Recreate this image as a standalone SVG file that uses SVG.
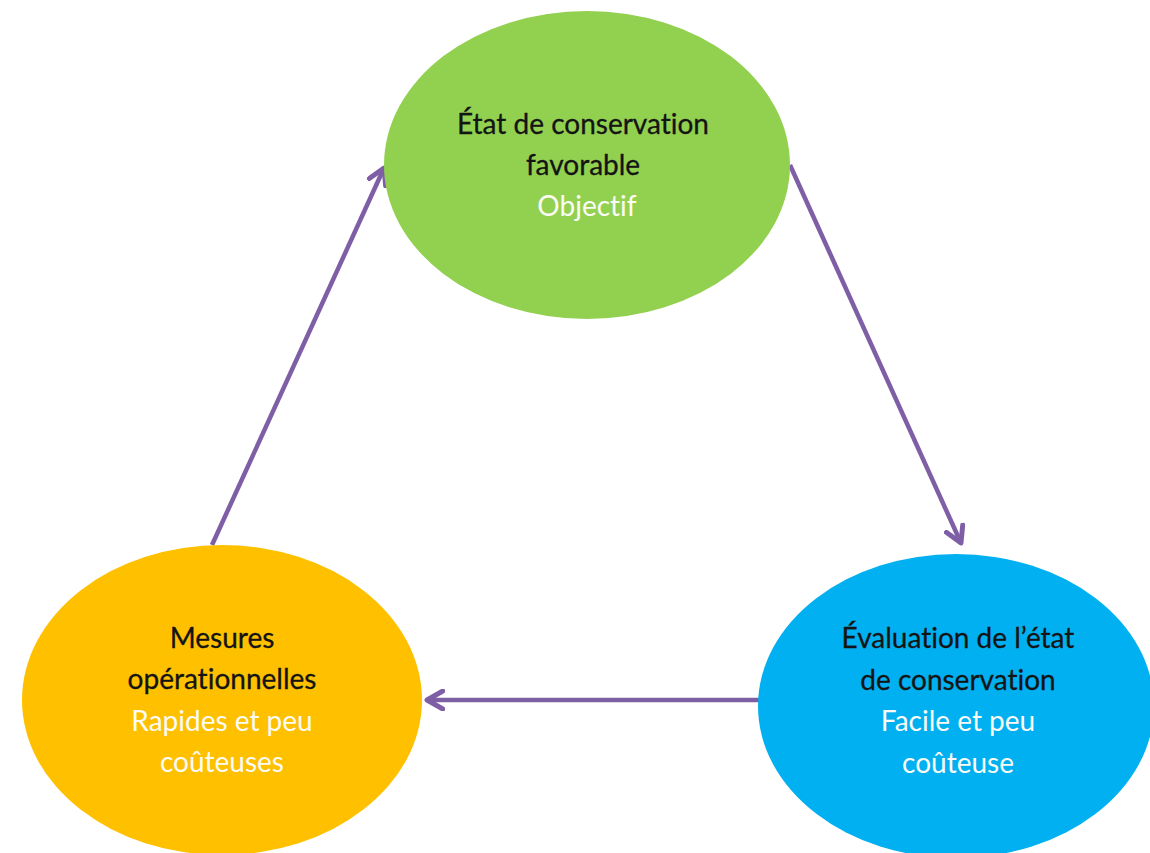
<svg xmlns="http://www.w3.org/2000/svg" width="1150" height="853" viewBox="0 0 1150 853">
<defs>
<style>
.t{font-family:Lato,"Open Sans","Liberation Sans",sans-serif;font-size:28px;text-anchor:middle;font-variant-ligatures:none;font-feature-settings:"liga" 0,"clig" 0}
.d{fill:#141414;stroke:#141414;stroke-width:0.3}
.w{fill:#fbfbf5}
.c{stroke:#7e5fa6;stroke-width:4.5;fill:none}
</style>
<marker id="ah" viewBox="0 0 10 10" refX="8" refY="5" markerWidth="5" markerHeight="5" orient="auto" markerUnits="strokeWidth">
<path d="M1,1 L8,5 L1,9" fill="none" stroke="#7e5fa6" stroke-width="2.2" stroke-linecap="round" stroke-linejoin="round"/>
</marker>
</defs>
<rect width="1150" height="853" fill="#ffffff"/>
<g id="connectors">
<line class="c" x1="212" y1="545" x2="384" y2="168" marker-end="url(#ah)"/>
<line class="c" x1="790" y1="165" x2="961" y2="543" marker-end="url(#ah)"/>
<line class="c" x1="760" y1="700" x2="427" y2="700" marker-end="url(#ah)"/>
</g>
<g id="node-etat">
<ellipse cx="587" cy="165" rx="203" ry="154" fill="#92D050"/>
<text class="t d" x="583" y="134">État de conservation</text>
<text class="t d" x="583" y="175">favorable</text>
<text class="t w" x="587" y="216">Objectif</text>
</g>
<g id="node-mesures">
<ellipse cx="222" cy="700" rx="200" ry="155" fill="#FFC000"/>
<text class="t d" x="222" y="648">Mesures</text>
<text class="t d" x="222" y="689">opérationnelles</text>
<text class="t w" x="222" y="731">Rapides et peu</text>
<text class="t w" x="222" y="772">coûteuses</text>
</g>
<g id="node-evaluation">
<ellipse cx="956" cy="706" rx="198" ry="152" fill="#00B0F0"/>
<text class="t d" x="958" y="648">Évaluation de l’état</text>
<text class="t d" x="958" y="690">de conservation</text>
<text class="t w" x="958" y="731">Facile et peu</text>
<text class="t w" x="958" y="773">coûteuse</text>
</g>
</svg>
